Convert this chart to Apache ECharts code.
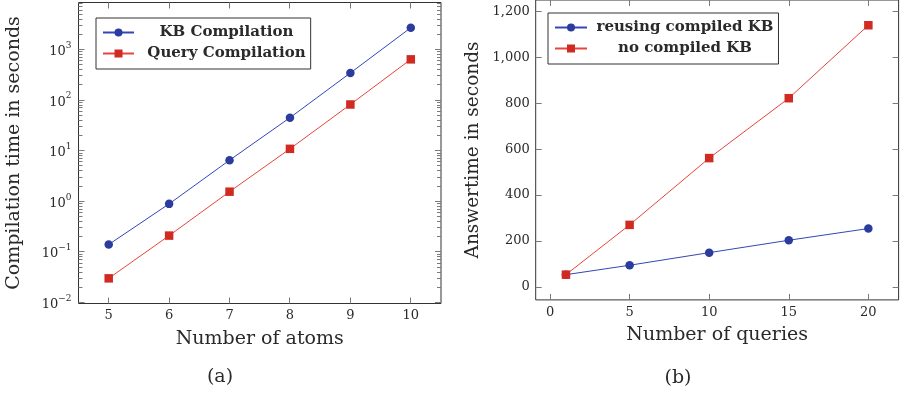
<!DOCTYPE html>
<html>
<head>
<meta charset="utf-8">
<script src="https://cdn.jsdelivr.net/npm/echarts@6/dist/echarts.min.js"></script>
<style>
html,body{margin:0;padding:0;background:#fff;}
#chart{width:907px;height:396px;}
</style>
</head>
<body>
<div id="chart"></div>
<script>
// ---- data (a) ----
const atoms = [5, 6, 7, 8, 9, 10];
const kbCompilation = [0.14, 0.89, 6.5, 45, 345, 2700];
const queryCompilation = [0.030, 0.21, 1.55, 10.9, 82, 640];
const logMajorTicks = [0.01, 0.1, 1, 10, 100, 1000];
const logTickExponents = ['−2', '−1', '0', '1', '2', '3'];
// ---- data (b) ----
const queries = [1, 5, 10, 15, 20];
const reusingKB = [53, 94, 149, 203, 254];
const noCompiledKB = [53, 270, 561, 822, 1140];
const xTicksB = [0, 5, 10, 15, 20];
const yTicksB = [0, 200, 400, 600, 800, 1000, 1200];

// minor tick positions of the log axis (2..9 x each decade)
const logMinorTicks = [];
logMajorTicks.forEach(function (d) {
  for (let k = 2; k <= 9; k++) logMinorTicks.push(+(d * k).toPrecision(3));
});

const SERIF = '"DejaVu Serif", serif';
const TXT = '#2a2a2a';
const BLUE_LINE = '#3346b8', BLUE_MARK = '#2c3c9e';
const RED_LINE = '#e8443c', RED_MARK = '#d12a22';
const TICK = '#7a7a7a';

const xMinA = 4.5, xMaxA = 10.5;
const logMin = Math.pow(10, -2.02), logMax = Math.pow(10, 3.93);

function tickOnly(values, len, extra) {
  return Object.assign({
    axisLine: { show: false, onZero: false },
    axisTick: { show: true, inside: true, length: len, customValues: values, lineStyle: { color: TICK, width: 1 } },
    axisLabel: { show: false },
    splitLine: { show: false }
  }, extra);
}

// tick marks of panel (a): [x, y, dx, dy] anchored on the frame through the axes' scales
const ticksA = [];
atoms.forEach(function (v) { ticksA.push([v, logMin, 0, -6]); ticksA.push([v, logMax, 0, 6]); });
logMajorTicks.forEach(function (v) { ticksA.push([xMinA, v, 6, 0]); ticksA.push([xMaxA, v, -6, 0]); });
logMinorTicks.filter(function (v) { return v > logMin && v < logMax; }).forEach(function (v) {
  ticksA.push([xMinA, v, 4, 0]); ticksA.push([xMaxA, v, -4, 0]);
});

function crisp(v) { return Math.round(v - 0.5) + 0.5; }

const chart = echarts.init(document.getElementById('chart'));

const legendText = function (w) {
  return { rich: { t: { width: w, align: 'center', fontFamily: SERIF, fontWeight: 'bold', fontSize: 15, color: TXT } } };
};

const option = {
  backgroundColor: '#fff',
  animation: false,
  grid: [
    { left: 78.5, top: 2.5, width: 362.5, height: 301, show: true, borderColor: '#333', borderWidth: 1 },
    { left: 535.7, top: -1.8, width: 362.9, height: 301.7, show: true, borderColor: '#333', borderWidth: 1 }
  ],
  xAxis: [
    {
      type: 'value', gridIndex: 0, position: 'bottom', min: xMinA, max: xMaxA,
      axisLine: { show: false, onZero: false }, axisTick: { show: false }, splitLine: { show: false },
      axisLabel: { show: true, customValues: atoms, margin: 6, fontFamily: SERIF, fontSize: 13, color: TXT },
      name: 'Number of atoms', nameLocation: 'middle', nameGap: 26,
      nameTextStyle: { fontFamily: SERIF, fontSize: 19, color: TXT }
    },
    Object.assign(tickOnly(xTicksB, 6, {}), {
      type: 'value', gridIndex: 1, position: 'bottom', min: -0.9, max: 21.9,
      axisLabel: { show: true, customValues: xTicksB, margin: 6, fontFamily: SERIF, fontSize: 13, color: TXT },
      name: 'Number of queries', nameLocation: 'middle', nameGap: 26,
      nameTextStyle: { fontFamily: SERIF, fontSize: 19, color: TXT }
    }),
    tickOnly(xTicksB, 6, { type: 'value', gridIndex: 1, position: 'top', min: -0.9, max: 21.9 })
  ],
  yAxis: [
    {
      type: 'log', logBase: 10, gridIndex: 0, position: 'left', min: logMin, max: logMax,
      axisLine: { show: false, onZero: false }, axisTick: { show: false }, splitLine: { show: false },
      axisLabel: {
        show: true, customValues: logMajorTicks, margin: 7, color: TXT,
        fontFamily: SERIF, fontSize: 13,
        formatter: function (v) {
          const i = logMajorTicks.findIndex(function (t) { return Math.abs(Math.log10(t) - Math.log10(v)) < 1e-6; });
          return i < 0 ? '' : '{b|10}{s|' + logTickExponents[i] + '}';
        },
        rich: {
          b: { fontFamily: SERIF, fontSize: 13, color: TXT, verticalAlign: 'bottom', lineHeight: 17 },
          s: { fontFamily: SERIF, fontSize: 9, color: TXT, verticalAlign: 'top', lineHeight: 10 }
        }
      },
      name: 'Compilation time in seconds', nameLocation: 'middle', nameRotate: 90, nameGap: 55,
      nameTextStyle: { fontFamily: SERIF, fontSize: 19, color: TXT }
    },
    Object.assign(tickOnly(yTicksB, 6, {}), {
      type: 'value', gridIndex: 1, position: 'left', min: -57, max: 1250,
      axisLabel: {
        show: true, customValues: yTicksB, margin: 6, fontFamily: SERIF, fontSize: 13, color: TXT,
        formatter: function (v) { return v.toLocaleString('en-US'); }
      },
      name: 'Answertime in seconds', nameLocation: 'middle', nameRotate: 90, nameGap: 53,
      nameTextStyle: { fontFamily: SERIF, fontSize: 18.5, color: TXT }
    }),
    tickOnly(yTicksB, 6, { type: 'value', gridIndex: 1, position: 'right', min: -57, max: 1250 })
  ],
  legend: [
    {
      data: ['KB Compilation', 'Query Compilation'],
      orient: 'vertical', left: 96, top: 18,
      padding: [7, 5, 8, 6], itemGap: 6, itemWidth: 31, itemHeight: 10,
      borderColor: '#333', borderWidth: 1, backgroundColor: '#fff',
      formatter: function (n) { return '{t|' + n + '}'; },
      textStyle: legendText(175)
    },
    {
      data: ['reusing compiled KB', 'no compiled KB'],
      orient: 'vertical', left: 548, top: 13,
      padding: [7, 5, 8, 6], itemGap: 6, itemWidth: 32, itemHeight: 10,
      borderColor: '#333', borderWidth: 1, backgroundColor: '#fff',
      formatter: function (n) { return '{t|' + n + '}'; },
      textStyle: legendText(186)
    }
  ],
  graphic: [
    { type: 'text', x: 220, y: 377, style: { text: '(a)', font: '19px "DejaVu Serif", serif', fill: TXT, align: 'center', verticalAlign: 'middle' } },
    { type: 'text', x: 678, y: 378, style: { text: '(b)', font: '19px "DejaVu Serif", serif', fill: TXT, align: 'center', verticalAlign: 'middle' } }
  ],
  series: [
    {
      name: 'ticksA', type: 'custom', xAxisIndex: 0, yAxisIndex: 0, silent: true, clip: false, z: 10,
      data: ticksA,
      renderItem: function (params, api) {
        const p = api.coord([api.value(0), api.value(1)]);
        const dx = api.value(2), dy = api.value(3);
        const x = dx === 0 ? crisp(p[0]) : p[0];
        const y = dy === 0 ? crisp(p[1]) : p[1];
        return { type: 'line', z2: 10, shape: { x1: x, y1: y, x2: x + dx, y2: y + dy }, style: { stroke: TICK, lineWidth: 1 } };
      }
    },
    {
      name: 'KB Compilation', type: 'line', xAxisIndex: 0, yAxisIndex: 0, z: 3,
      data: atoms.map(function (x, i) { return [x, kbCompilation[i]]; }),
      symbol: 'circle', symbolSize: 8.5, lineStyle: { color: BLUE_LINE, width: 1 },
      itemStyle: { color: BLUE_MARK, borderWidth: 0 }, color: BLUE_LINE
    },
    {
      name: 'Query Compilation', type: 'line', xAxisIndex: 0, yAxisIndex: 0, z: 3,
      data: atoms.map(function (x, i) { return [x, queryCompilation[i]]; }),
      symbol: 'rect', symbolSize: 8.5, lineStyle: { color: RED_LINE, width: 1 },
      itemStyle: { color: RED_MARK, borderWidth: 0 }, color: RED_LINE
    },
    {
      name: 'reusing compiled KB', type: 'line', xAxisIndex: 1, yAxisIndex: 1,
      data: queries.map(function (x, i) { return [x, reusingKB[i]]; }),
      symbol: 'circle', symbolSize: 8.5, lineStyle: { color: BLUE_LINE, width: 1 },
      itemStyle: { color: BLUE_MARK, borderWidth: 0 }, color: BLUE_LINE
    },
    {
      name: 'no compiled KB', type: 'line', xAxisIndex: 1, yAxisIndex: 1,
      data: queries.map(function (x, i) { return [x, noCompiledKB[i]]; }),
      symbol: 'rect', symbolSize: 8.5, lineStyle: { color: RED_LINE, width: 1 },
      itemStyle: { color: RED_MARK, borderWidth: 0 }, color: RED_LINE
    }
  ]
};
chart.setOption(option);
</script>
</body>
</html>
